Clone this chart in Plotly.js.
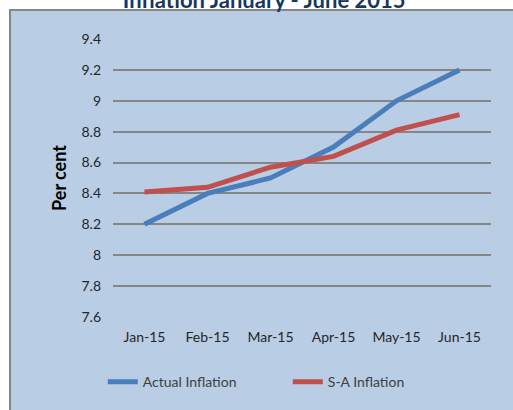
<!DOCTYPE html>
<html>
<head>
<meta charset="utf-8">
<script src="https://cdn.plot.ly/plotly-3.0.1.min.js"></script>
<style>
  html, body { margin: 0; padding: 0; background: #ffffff; }
  #chart { width: 513px; height: 410px; }
</style>
</head>
<body>
<div id="chart"></div>
<script>
// Inflation, January - June 2015
var months = ['Jan-15', 'Feb-15', 'Mar-15', 'Apr-15', 'May-15', 'Jun-15'];
var actualInflation = [8.2, 8.4, 8.5, 8.7, 9.0, 9.2];
var saInflation = [8.41, 8.44, 8.57, 8.64, 8.81, 8.91];

var trace1 = {
  x: months,
  y: actualInflation,
  name: 'Actual Inflation',
  type: 'scatter',
  mode: 'lines',
  line: { color: '#4a7ebb', width: 5 }
};

var trace2 = {
  x: months,
  y: saInflation,
  name: 'S-A Inflation',
  type: 'scatter',
  mode: 'lines',
  line: { color: '#c0504d', width: 5 }
};

var data = [trace1, trace2];

var font = 'Lato, "Open Sans", sans-serif';

var layout = {
  width: 513,
  height: 410,
  margin: { l: 113, r: 22, t: 39, b: 93 },
  paper_bgcolor: '#ffffff',
  plot_bgcolor: '#c6d9f1',
  font: { family: font, size: 14, color: '#262626' },
  title: {
    text: 'Inflation January - June 2015',
    font: { family: font, size: 22, color: '#17375e', weight: 'bold' },
    x: 0.515,
    xanchor: 'center',
    y: 1.0,
    yref: 'container',
    yanchor: 'middle'
  },
  showlegend: true,
  legend: {
    orientation: 'h',
    x: -0.027,
    xanchor: 'left',
    y: -0.234,
    yanchor: 'middle',
    font: { family: font, size: 14, color: '#404040' },
    bgcolor: 'rgba(0,0,0,0)',
    entrywidth: 140,
    entrywidthmode: 'pixels'
  },
  xaxis: {
    type: 'category',
    range: [-0.5, 5.5],
    showgrid: false,
    showline: false,
    zeroline: false,
    ticks: '',
    ticklabelstandoff: 10,
    tickfont: { family: font, size: 14, color: '#262626' }
  },
  yaxis: {
    range: [7.6, 9.4],
    dtick: 0.2,
    tick0: 7.6,
    showgrid: true,
    gridcolor: '#868686',
    gridwidth: 2,
    zeroline: false,
    showline: false,
    ticks: '',
    ticklabelstandoff: 11,
    tickfont: { family: font, size: 14, color: '#262626' },
    title: {
      text: 'Per cent',
      font: { family: font, size: 18, color: '#000000', weight: 'bold' },
      standoff: 10
    }
  },
  shapes: [{
    type: 'rect',
    xref: 'paper',
    yref: 'paper',
    layer: 'below',
    x0: -0.2725,
    x1: 1.07,
    y0: -0.35,
    y1: 1.1043,
    fillcolor: '#b9cde5',
    line: { color: '#868686', width: 2 }
  }]
};

Plotly.newPlot('chart', data, layout, { displayModeBar: false });
</script>
</body>
</html>
